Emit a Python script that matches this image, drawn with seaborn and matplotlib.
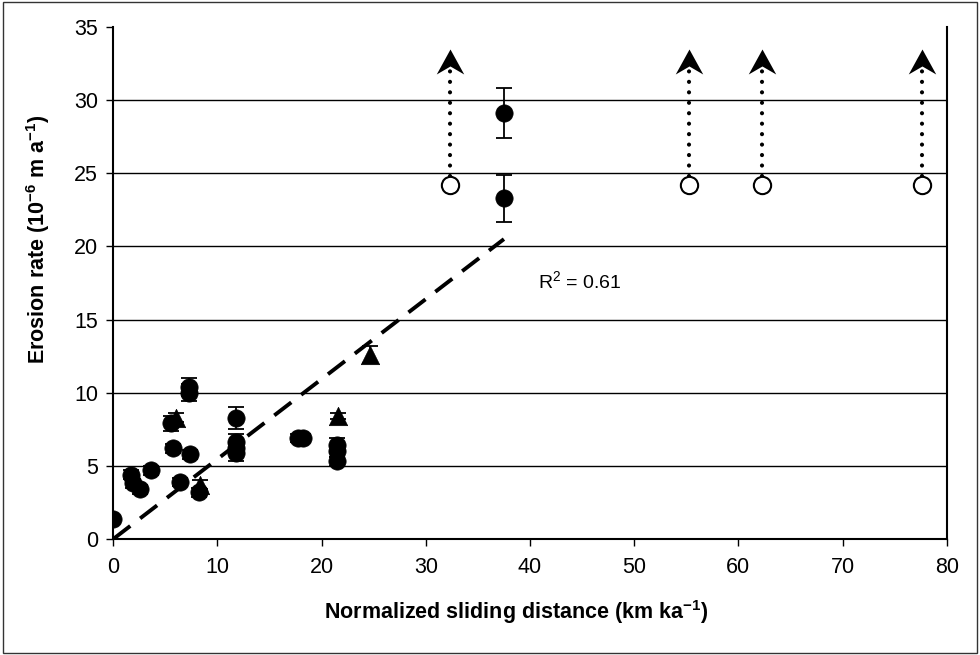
import numpy as np
import pandas as pd
import matplotlib
matplotlib.use("Agg")
import matplotlib.pyplot as plt
from matplotlib.path import Path
from matplotlib.patches import Rectangle
import seaborn as sns

# ---- data ----
circle_x = [0.0, 1.7, 1.9, 2.6, 3.6, 5.5, 5.7, 6.4, 7.3, 7.3, 7.4, 8.2,
            11.8, 11.8, 11.8, 11.8, 17.7, 18.2, 21.5, 21.5, 21.5, 37.5, 37.5]
circle_y = [1.4, 4.4, 3.8, 3.4, 4.7, 7.9, 6.2, 3.9, 10.4, 10.0, 5.8, 3.2,
            8.3, 6.6, 6.2, 5.9, 6.9, 6.9, 6.4, 6.0, 5.3, 29.1, 23.3]
circle_err = [0.2, 0.3, 0.3, 0.3, 0.3, 0.5, 0.3, 0.3, 0.6, 0.6, 0.3, 0.3,
              0.75, 0.6, 0.4, 0.6, 0.3, 0.3, 0.5, 0.4, 0.3, 1.7, 1.6]

tri_x = [6.0, 8.3, 21.6, 24.6]
tri_y = [8.3, 3.7, 8.4, 12.6]
tri_err = [0.3, 0.3, 0.2, 0.6]

open_x = [32.3, 55.3, 62.3, 77.6]
open_y = [24.2, 24.2, 24.2, 24.2]
arrow_tip_y = 33.5

trend_x = [0.0, 37.5]
trend_y = [0.0, 20.5]
r2_text = "R$^2$ = 0.61"

x_ticks = [0, 10, 20, 30, 40, 50, 60, 70, 80]
y_ticks = [0, 5, 10, 15, 20, 25, 30, 35]

# ---- style ----
sns.set_theme(style="white")
plt.rcParams['font.family'] = ['Liberation Sans', 'DejaVu Sans']
plt.rcParams['mathtext.fontset'] = 'custom'
plt.rcParams['mathtext.rm'] = 'Liberation Sans'
plt.rcParams['mathtext.bf'] = 'Liberation Sans:bold'
plt.rcParams['mathtext.it'] = 'Liberation Sans:italic'

fig = plt.figure(figsize=(9.8, 6.55), dpi=100)
fig.patch.set_facecolor('white')
ax = fig.add_axes([0.1156, 0.1771, 0.8504, 0.7817])

# gridlines
for yv in y_ticks[1:-1]:
    ax.axhline(yv, color='black', lw=1.0, zorder=0)

# trend line
sns.lineplot(x=trend_x, y=trend_y, ax=ax, color='black', lw=2.8,
             dashes=False, zorder=2)
ax.lines[-1].set_dashes((5.5, 3.2))

# dotted arrows from open circles
for xv, yv in zip(open_x, open_y):
    ax.plot([xv, xv], [yv + 0.6, arrow_tip_y - 1.0], color='black', lw=3.0,
            linestyle=(0, (0.01, 2.5)), dash_capstyle='round', zorder=3)

head = Path([(0, 0), (-0.55, -1.0), (0, -0.68), (0.55, -1.0), (0, 0)],
            [Path.MOVETO, Path.LINETO, Path.LINETO, Path.LINETO, Path.CLOSEPOLY])
for xv in open_x:
    ax.plot([xv], [arrow_tip_y], marker=head, markersize=36,
            color='black', markeredgewidth=0, zorder=4, clip_on=False)

# error bars
ax.errorbar(circle_x, circle_y, yerr=circle_err, fmt='none', ecolor='black',
            elinewidth=1.3, capsize=5.5, capthick=1.3, zorder=3)
ax.errorbar(tri_x, tri_y, yerr=tri_err, fmt='none', ecolor='black',
            elinewidth=1.3, capsize=5.5, capthick=1.3, zorder=3)

# points
df_c = pd.DataFrame({'x': circle_x, 'y': circle_y})
df_t = pd.DataFrame({'x': tri_x, 'y': tri_y})
df_o = pd.DataFrame({'x': open_x, 'y': open_y})
sns.scatterplot(data=df_c, x='x', y='y', ax=ax, marker='o', s=155,
                color='black', edgecolor='black', linewidth=0.5, zorder=5)
sns.scatterplot(data=df_t, x='x', y='y', ax=ax, marker='^', s=175,
                color='black', edgecolor='black', linewidth=0.5, zorder=5)
sns.scatterplot(data=df_o, x='x', y='y', ax=ax, marker='o', s=155,
                facecolor='white', edgecolor='black', linewidth=1.5, zorder=5)

ax.text(40.8, 17.6, r2_text, fontsize=14, va='center', ha='left', color='black')

# axes
ax.set_xlim(0, 80)
ax.set_ylim(0, 35)
ax.set_xticks(x_ticks)
ax.set_yticks(y_ticks)
ax.tick_params(axis='both', which='major', direction='out', length=5,
               width=1, color='black', labelsize=15.5, labelcolor='black',
               bottom=True, left=True)
ax.tick_params(axis='x', pad=8)
ax.tick_params(axis='y', pad=6)
for side in ['left', 'bottom', 'right']:
    ax.spines[side].set_visible(True)
    ax.spines[side].set_color('black')
    ax.spines[side].set_linewidth(1.5)
ax.spines['top'].set_visible(False)

ax.set_xlabel(r'Normalized sliding distance (km ka$^{\mathbf{-1}}$)',
              fontsize=15.5, fontweight='bold', color='black')
ax.set_ylabel(r'Erosion rate (10$^{\mathbf{-6}}$ m a$^{\mathbf{-1}}$)',
              fontsize=15.5, fontweight='bold', color='black')
ax.xaxis.set_label_coords(0.483, -0.142)
ax.xaxis.label.set_va('center')
ax.yaxis.set_label_coords(-0.09, 0.585)
ax.yaxis.label.set_va('center')

# figure border
fig.patches.append(Rectangle((0.003, 0.003), 0.994, 0.994, transform=fig.transFigure,
                             fill=False, edgecolor='#333333', lw=1.0))

fig.savefig('out.png', dpi=100)
